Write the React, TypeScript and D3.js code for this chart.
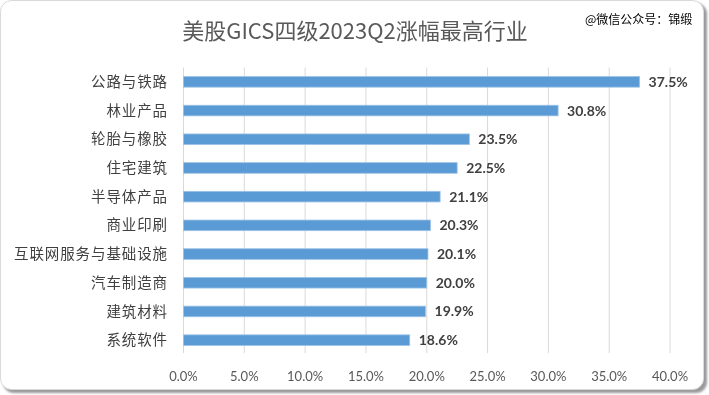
import React from "react";
import * as d3 from "d3";

const categories = ["公路与铁路", "林业产品", "轮胎与橡胶", "住宅建筑", "半导体产品", "商业印刷", "互联网服务与基础设施", "汽车制造商", "建筑材料", "系统软件"];
const values = [37.5, 30.8, 23.5, 22.5, 21.1, 20.3, 20.1, 20.0, 19.9, 18.6];
const xTicks = [0, 5, 10, 15, 20, 25, 30, 35, 40];
const title = "美股GICS四级2023Q2涨幅最高行业";
const watermark = "@微信公众号：锦缎";

const W = 709;
const H = 395;

export default function App() {
  const x = d3.scaleLinear().domain([0, 40]).range([183.5, 670]);
  const y = d3.scaleBand<string>().domain(categories).range([67.5, 354.5]).paddingInner(0.63).paddingOuter(0.315);
  const cjk = "'Noto Sans CJK SC', 'Noto Sans', sans-serif";
  const latin = "Lato, 'Noto Sans', sans-serif";
  return (
    <svg width={W} height={H} style={{ position: "fixed", top: 0, left: 0 }}>
      <defs>
        <filter id="sh" x="-5%" y="-5%" width="110%" height="110%">
          <feGaussianBlur stdDeviation="1.2" />
        </filter>
      </defs>
      <rect x={3} y={3} width={W - 5} height={H - 5} rx={11} fill="#9a9a9a" filter="url(#sh)" />
      <rect x={0.5} y={0.5} width={W - 6} height={H - 6} rx={11} fill="#ffffff" stroke="#d9d9d9" />
      <text x={355} y={38.5} textAnchor="middle" fontFamily={cjk} fontSize={22} fill="#595959">{title}</text>
      <text x={585} y={24} fontFamily={cjk} fontSize={12} fill="#000000">{watermark}</text>
      {xTicks.map((t) => (
        <g key={t}>
          <line x1={x(t)} x2={x(t)} y1={67.5} y2={353} stroke="#d9d9d9" strokeWidth={1} />
          <text x={x(t)} y={381} textAnchor="middle" fontFamily={latin} fontSize={13} fill="#595959">{t.toFixed(1) + "%"}</text>
        </g>
      ))}
      {categories.map((c, i) => {
        const yy = y(c)!;
        const bw = y.bandwidth();
        return (
          <g key={c}>
            <rect x={x(0)} y={yy} width={x(values[i]) - x(0)} height={bw} fill="#5b9bd5" stroke="#9dc3e6" strokeWidth={0.8} />
            <text x={168} y={yy + bw / 2} dy="0.35em" textAnchor="end" fontFamily={cjk} fontSize={14.5} letterSpacing={0.9} fill="#404040">{c}</text>
            <text x={x(values[i]) + 9} y={yy + bw / 2} dy="0.36em" fontFamily={latin} fontWeight="bold" fontSize={14} fill="#404040">{values[i].toFixed(1) + "%"}</text>
          </g>
        );
      })}
    </svg>
  );
}
